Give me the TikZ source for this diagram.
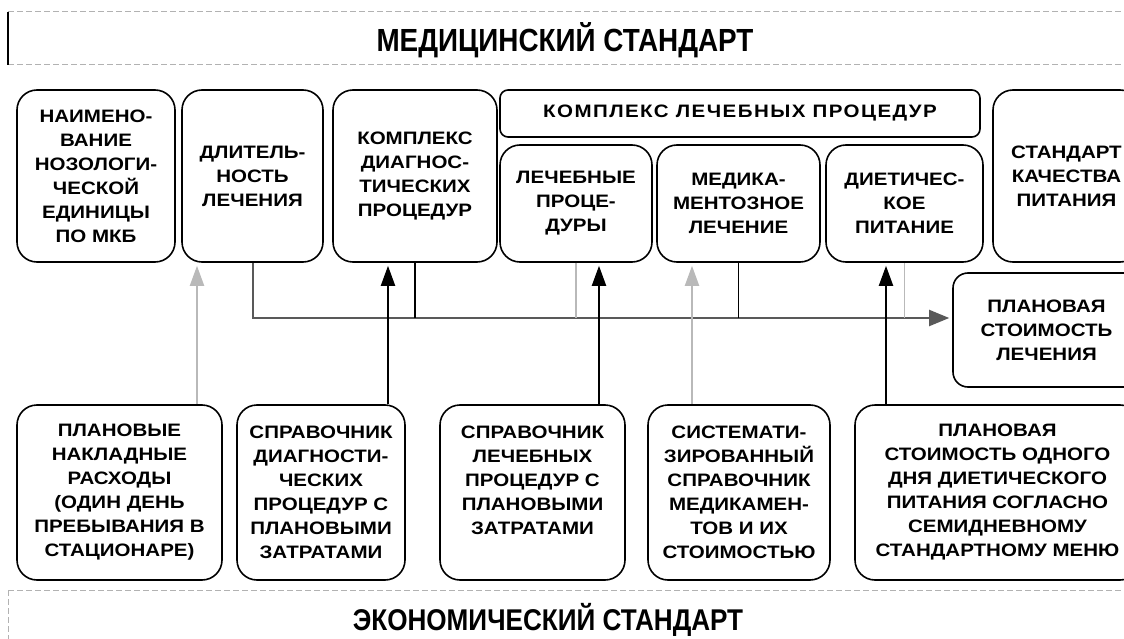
\documentclass[tikz,border=0pt]{standalone}
\usepackage{fontspec}
\setmainfont{Liberation Sans}
\newfontfamily\boxfont{Liberation Sans}[FakeStretch=1.14]
\newfontfamily\titlefont{Liberation Sans}[FakeStretch=0.87]
\usetikzlibrary{arrows.meta}

\begin{document}
\begin{tikzpicture}[x=1pt,y=-1pt,
    box/.style={draw,line width=1.6pt,rounded corners=20pt,align=center,inner sep=0pt,
      font=\boxfont\bfseries\fontsize{18}{24}\selectfont},
    arr/.style={line width=2pt,-{Triangle[length=20pt,width=14pt]},shorten >=3pt},
    pale/.style={gray!55},
    bar/.style={gray!60,line width=1pt,dash pattern=on 6pt off 3pt}]
        \useasboundingbox (0,0) rectangle (1124,639);
        \clip (0,0) rectangle (1124,639);

        % 上方：医疗标准
        \draw[bar] (8,12) -- (1124,12);
        \draw[bar] (8,65) -- (1124,65);
        \draw[line width=2pt] (8,12) -- (8,65);
        \node[font=\titlefont\bfseries\fontsize{32}{32}\selectfont] (medst) at (565,40) {МЕДИЦИНСКИЙ СТАНДАРТ};

        % 上排方框
        \node[box,minimum width=158pt,minimum height=172pt] (naim) at (96,176)
            {НАИМЕНО-\\ВАНИЕ\\НОЗОЛОГИ-\\ЧЕСКОЙ\\ЕДИНИЦЫ\\ПО МКБ};
        \node[box,minimum width=141pt,minimum height=172pt] (dlit) at (252.5,176)
            {ДЛИТЕЛЬ-\\НОСТЬ\\ЛЕЧЕНИЯ};
        \node[box,minimum width=164pt,minimum height=172pt] (diag) at (415,176)
            {КОМПЛЕКС\\ДИАГНОС-\\ТИЧЕСКИХ\\ПРОЦЕДУР};
        \node[box,rounded corners=8pt,minimum width=480pt,minimum height=47pt] (kompl) at (740,113.5)
            {\addfontfeature{LetterSpace=8}КОМПЛЕКС ЛЕЧЕБНЫХ ПРОЦЕДУР};
        \node[box,minimum width=152pt,minimum height=117pt] (lech) at (576,203.5)
            {ЛЕЧЕБНЫЕ\\ПРОЦЕ-\\ДУРЫ};
        \node[box,minimum width=163pt,minimum height=117pt] (medik) at (738.5,203.5)
            {МЕДИКА-\\МЕНТОЗНОЕ\\ЛЕЧЕНИЕ};
        \node[box,minimum width=157pt,minimum height=117pt] (diet) at (904.5,203.5)
            {ДИЕТИЧЕС-\\КОЕ\\ПИТАНИЕ};
        \node[box,minimum width=147pt,minimum height=172pt] (kach) at (1066.5,176)
            {СТАНДАРТ\\КАЧЕСТВА\\ПИТАНИЯ};
        \node[box,rounded corners=15pt,minimum width=187pt,minimum height=114pt] (plan) at (1046.5,330)
            {ПЛАНОВАЯ\\СТОИМОСТЬ\\ЛЕЧЕНИЯ};

        % 下排方框
        \node[box,minimum width=205pt,minimum height=175pt] (nakl) at (119.5,492.5)
            {ПЛАНОВЫЕ\\НАКЛАДНЫЕ\\РАСХОДЫ\\(ОДИН ДЕНЬ\\ПРЕБЫВАНИЯ В\\СТАЦИОНАРЕ)};
        \node[box,minimum width=168pt,minimum height=175pt] (sprdiag) at (321,492.5)
            {СПРАВОЧНИК\\ДИАГНОСТИ-\\ЧЕСКИХ\\ПРОЦЕДУР С\\ПЛАНОВЫМИ\\ЗАТРАТАМИ};
        \node[box,minimum width=185pt,minimum height=175pt] (sprlech) at (532.5,492.5)
            {СПРАВОЧНИК\\ЛЕЧЕБНЫХ\\ПРОЦЕДУР С\\ПЛАНОВЫМИ\\ЗАТРАТАМИ\\ };
        \node[box,minimum width=182pt,minimum height=175pt] (sprmed) at (739,492.5)
            {СИСТЕМАТИ-\\ЗИРОВАННЫЙ\\СПРАВОЧНИК\\МЕДИКАМЕН-\\ТОВ И ИХ\\СТОИМОСТЬЮ};
        \node[box,minimum width=285pt,minimum height=175pt] (plpit) at (997.5,492.5)
            {ПЛАНОВАЯ\\СТОИМОСТЬ ОДНОГО\\ДНЯ ДИЕТИЧЕСКОГО\\ПИТАНИЯ СОГЛАСНО\\СЕМИДНЕВНОМУ\\СТАНДАРТНОМУ МЕНЮ};

        % 下方：经济标准
        \draw[bar] (8,590) -- (1124,590);
        \draw[bar] (8,590) -- (8,639);
        \node[font=\titlefont\bfseries\fontsize{30}{30}\selectfont] (econst) at (548,620) {ЭКОНОМИЧЕСКИЙ СТАНДАРТ};

        % 汇总线
        \coordinate (bus) at (253,318);
        \draw[line width=2pt,gray!70!black] (dlit.south) |- (bus);
        \draw[arr,gray!70!black,-{Triangle[length=20pt,width=16pt]},shorten >=3pt] (bus) -- (plan.west |- bus);
        \draw[line width=1.6pt] (diag.south) -- (diag.south |- bus);
        \draw[line width=1.6pt,pale] (lech.south) -- (lech.south |- bus);
        \draw[line width=1.6pt] (medik.south) -- (medik.south |- bus);
        \draw[line width=1.6pt,pale] (diet.south) -- (diet.south |- bus);

        % 由下向上的箭头
        \coordinate (a1) at (197,0);
        \coordinate (a2) at (388,0);
        \coordinate (a3) at (599,0);
        \coordinate (a4) at (692,0);
        \coordinate (a5) at (886,0);
        \draw[arr,pale] (nakl.north -| a1) -- (dlit.south -| a1);
        \draw[arr] (sprdiag.north -| a2) -- (diag.south -| a2);
        \draw[arr] (sprlech.north -| a3) -- (lech.south -| a3);
        \draw[arr,pale] (sprmed.north -| a4) -- (medik.south -| a4);
        \draw[arr] (plpit.north -| a5) -- (diet.south -| a5);
    \end{tikzpicture}
\end{document}
